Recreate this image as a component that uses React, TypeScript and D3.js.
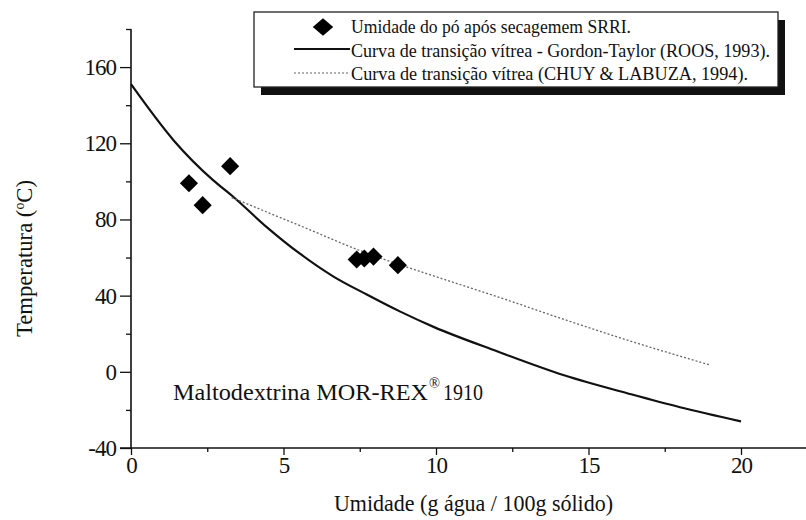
import React, { useEffect, useRef } from 'react';
import * as d3 from 'd3';

// measured points (umidade g/100g, temperatura °C)
const pontosX = [1.9, 2.35, 3.25, 7.4, 7.65, 7.95, 8.75];
const pontosY = [99, 87.5, 108, 59, 59.5, 60.5, 56];

// Gordon-Taylor curve (ROOS, 1993)
const gtX = [0, 1.4, 2.7, 3.36, 4.45, 5.54, 6.64, 7.73, 8.83, 9.92, 12, 14.2, 16.4, 18, 20];
const gtY = [151, 121.5, 100.5, 91.8, 76, 62, 50, 40.6, 31.6, 23.6, 10.8, -1.8, -11.8, -18.6, -26];

// Chuy & Labuza (1994) curve
const clX = [3.3, 5.5, 7.7, 9.8, 12, 14.2, 16.4, 19];
const clY = [91.5, 77, 62.5, 51, 39.5, 27.5, 16, 3.5];

const xMajor = [0, 5, 10, 15, 20];
const xMinor = [2.5, 7.5, 12.5, 17.5];
const yMajor = [-40, 0, 40, 80, 120, 160];
const yMinor = [-20, 20, 60, 100, 140, 180];

const legendLabels = [
  'Umidade do pó após secagemem SRRI.',
  'Curva de transição vítrea - Gordon-Taylor (ROOS, 1993).',
  'Curva de transição vítrea (CHUY & LABUZA, 1994).',
];

const FONT = '"Liberation Serif", "Times New Roman", serif';

export default function App() {
  const ref = useRef<SVGSVGElement>(null);

  useEffect(() => {
    const svg = d3.select(ref.current);
    svg.selectAll('*').remove();

    const x = d3.scaleLinear().domain([0, 22]).range([131, 802]);
    const y = d3.scaleLinear().domain([-40, 180]).range([448, 29]);

    const g = svg.append('g');

    // axes
    const styleAxis = (sel: any) => {
      sel.select('.domain').remove();
      sel.selectAll('line').attr('stroke', '#111').attr('stroke-width', 1.3);
      sel.selectAll('text').attr('font-family', FONT).attr('font-size', 23)
        .attr('letter-spacing', -1).attr('fill', '#111');
    };
    const fmt = (d: any) => String(d);

    g.append('g').attr('transform', `translate(${x(0)},0)`)
      .call(d3.axisLeft(y).tickValues(yMajor).tickSize(11).tickPadding(4).tickFormat(fmt))
      .call(styleAxis);
    g.append('g').attr('transform', `translate(${x(0)},0)`)
      .call(d3.axisLeft(y).tickValues(yMinor).tickSize(5).tickFormat(() => ''))
      .call(styleAxis);
    g.append('g').attr('transform', `translate(0,${y(-40)})`)
      .call(d3.axisBottom(x).tickValues(xMajor).tickSize(7).tickPadding(2).tickFormat(fmt))
      .call(styleAxis);
    g.append('g').attr('transform', `translate(0,${y(-40)})`)
      .call(d3.axisBottom(x).tickValues(xMinor).tickSize(4).tickFormat(() => ''))
      .call(styleAxis);

    g.append('line').attr('x1', x(0)).attr('x2', x(0)).attr('y1', y(180)).attr('y2', y(-40))
      .attr('stroke', '#111').attr('stroke-width', 1.6);
    g.append('line').attr('x1', x(0) - 11).attr('x2', 806).attr('y1', y(-40)).attr('y2', y(-40))
      .attr('stroke', '#111').attr('stroke-width', 1.6);

    // curves
    const line = d3.line<number>()
      .x((d) => x(d))
      .curve(d3.curveMonotoneX);

    g.append('path')
      .attr('d', line.y((_, i) => y(gtY[i]))(gtX))
      .attr('fill', 'none').attr('stroke', '#111').attr('stroke-width', 2.2);

    g.append('path')
      .attr('d', line.y((_, i) => y(clY[i]))(clX))
      .attr('fill', 'none').attr('stroke', '#666').attr('stroke-width', 1.3)
      .attr('stroke-dasharray', '2,2');

    // points
    const diamond = d3.symbol().type(d3.symbolDiamond2).size(210);
    g.selectAll('.pt').data(pontosX).enter().append('path')
      .attr('class', 'pt')
      .attr('d', diamond)
      .attr('transform', (d, i) => `translate(${x(d)},${y(pontosY[i])})`)
      .attr('fill', '#000');

    // annotation (three pieces so the superscript sits on its own)
    const annText = (tx: number, ty: number, size: number, len: number, s: string) =>
      g.append('text').attr('x', tx).attr('y', ty)
        .attr('font-family', FONT).attr('font-size', size).attr('fill', '#111')
        .attr('textLength', len).attr('lengthAdjust', 'spacingAndGlyphs')
        .text(s);
    annText(173, 400, 24, 255, 'Maltodextrina MOR-REX');
    annText(429, 388, 14, 11, '®');
    annText(443, 400, 23, 40, '1910');

    // axis titles
    g.append('text').attr('x', 334).attr('y', 511)
      .attr('font-family', FONT).attr('font-size', 23).attr('fill', '#111')
      .attr('textLength', 279).attr('lengthAdjust', 'spacingAndGlyphs')
      .text('Umidade (g água / 100g sólido)');

    const yt = g.append('text').attr('transform', 'translate(32,337) rotate(-90)')
      .attr('font-family', FONT).attr('font-size', 23).attr('fill', '#111')
      .attr('textLength', 157).attr('lengthAdjust', 'spacingAndGlyphs');
    yt.append('tspan').text('Temperatura (');
    yt.append('tspan').attr('dy', -8).attr('font-size', 14).text('o');
    yt.append('tspan').attr('dy', 8).text('C)');

    // legend
    const lg = g.append('g');
    lg.append('rect').attr('x', 261).attr('y', 20).attr('width', 524).attr('height', 75).attr('fill', '#111');
    lg.append('rect').attr('x', 254).attr('y', 12).attr('width', 524).attr('height', 75)
      .attr('fill', '#fff').attr('stroke', '#222').attr('stroke-width', 1.3);

    const rowY = [27, 49, 73];
    const baseY = [33, 57, 80];
    const textLens = [280, 419, 397];
    lg.append('path').attr('d', d3.symbol().type(d3.symbolDiamond2).size(220)())
      .attr('transform', `translate(323,${rowY[0]}) scale(1.1,0.95)`).attr('fill', '#000');
    lg.append('line').attr('x1', 294).attr('x2', 350).attr('y1', rowY[1]).attr('y2', rowY[1])
      .attr('stroke', '#111').attr('stroke-width', 1.8);
    lg.append('line').attr('x1', 294).attr('x2', 350).attr('y1', rowY[2]).attr('y2', rowY[2])
      .attr('stroke', '#666').attr('stroke-width', 1.2).attr('stroke-dasharray', '2,2');

    lg.selectAll('.lt').data(legendLabels).enter().append('text')
      .attr('class', 'lt')
      .attr('x', 351)
      .attr('y', (_, i) => baseY[i])
      .attr('font-family', FONT).attr('font-size', 18).attr('fill', '#111')
      .attr('textLength', (_, i) => textLens[i])
      .attr('lengthAdjust', 'spacingAndGlyphs')
      .text((d) => d);
  }, []);

  return (
    <svg ref={ref} width={806} height={520}
      style={{ position: 'absolute', left: 0, top: 0, background: '#fff' }} />
  );
}
